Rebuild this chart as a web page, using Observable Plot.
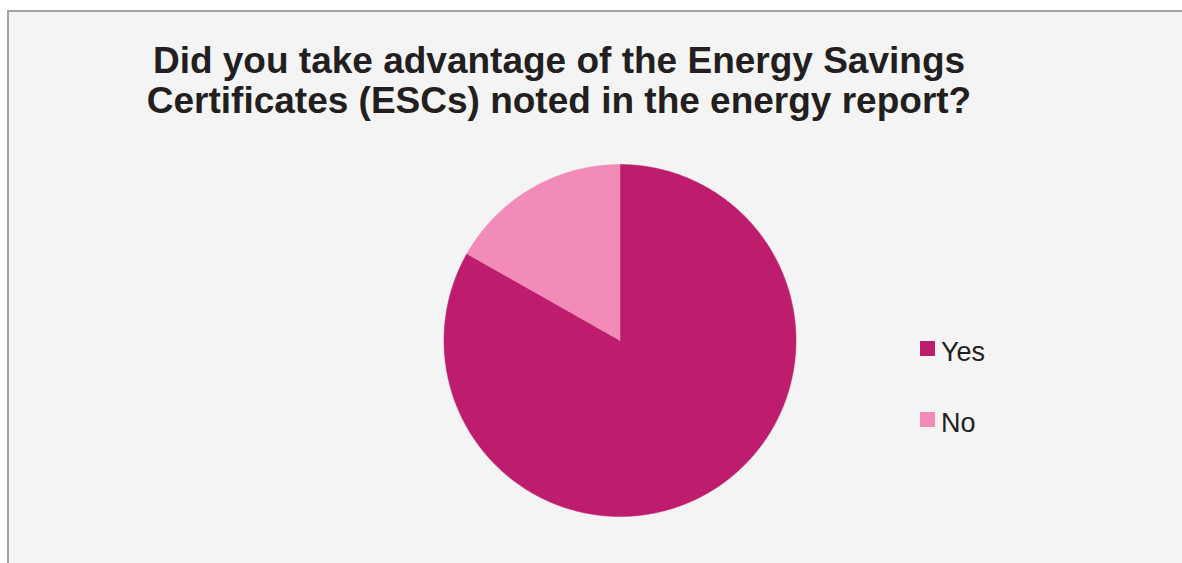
<!DOCTYPE html>
<html>
<head>
<meta charset="utf-8">
<script src="https://cdn.jsdelivr.net/npm/d3@7"></script>
<script src="https://cdn.jsdelivr.net/npm/@observablehq/plot@0.6"></script>
<style>
  html, body { margin: 0; padding: 0; background: #ffffff; overflow: hidden; }
  #wrap { position: relative; width: 1182px; height: 563px; overflow: hidden; font-family: Arial, "Liberation Sans", sans-serif; }
  #bg { position: absolute; left: 7px; top: 10px; right: -40px; bottom: -40px; background: #f3f4f3; border-top: 2px solid #a3a3a3; border-left: 2px solid #a3a3a3; }
  #title { position: absolute; left: 0; top: 41px; width: 1118px; text-align: center; font-weight: bold; font-size: 37px; line-height: 40px; color: #231f20; white-space: nowrap; }
  #chart { position: absolute; left: 0; top: 0; }
  .sw { position: absolute; left: 920px; width: 15px; height: 15px; }
  .lt { position: absolute; left: 941px; font-size: 27px; line-height: 27px; color: #231f20; }
</style>
</head>
<body>
<div id="wrap">
  <div id="bg"></div>
  <div id="chart"></div>
  <div id="title">Did you take advantage of the Energy Savings<br>Certificates (ESCs) noted in the energy report?</div>
  <div id="legend"></div>
</div>
<script>
const categories = ["Yes", "No"];
const values = [83.2, 16.8];
const colors = ["#be1c6d", "#f38bb9"];

const W = 1182, H = 563, cx = 619.5, cy = 340, r = 176;

const pie = d3.pie().sort(null).value(d => d.value);
const arcs = pie(categories.map((c, i) => ({key: c, value: values[i]})));
const pts = [];
for (const a of arcs) {
  const n = Math.max(2, Math.ceil((a.endAngle - a.startAngle) / 0.005));
  pts.push({key: a.data.key, x: 0, y: 0});
  for (let k = 0; k <= n; k++) {
    const t = a.startAngle + (a.endAngle - a.startAngle) * k / n;
    pts.push({key: a.data.key, x: Math.sin(t), y: Math.cos(t)});
  }
  pts.push({key: a.data.key, x: 0, y: 0});
}

const chart = Plot.plot({
  width: W, height: H,
  margin: 0,
  style: {background: "transparent"},
  x: {domain: [-cx / r, (W - cx) / r], axis: null},
  y: {domain: [-(H - cy) / r, cy / r], axis: null},
  color: {domain: categories, range: colors},
  marks: [
    Plot.line(pts, {x: "x", y: "y", z: "key", fill: "key", stroke: "key", strokeWidth: 0.5, curve: "linear-closed"})
  ]
});
document.getElementById("chart").appendChild(chart);

const legend = document.getElementById("legend");
const swTops = [341, 412];
const txTops = [339, 410];
categories.forEach((c, i) => {
  const sw = document.createElement("div");
  sw.className = "sw";
  sw.style.top = swTops[i] + "px";
  sw.style.background = colors[i];
  const tx = document.createElement("div");
  tx.className = "lt";
  tx.style.top = txTops[i] + "px";
  tx.textContent = c;
  legend.appendChild(sw);
  legend.appendChild(tx);
});
</script>
</body>
</html>
